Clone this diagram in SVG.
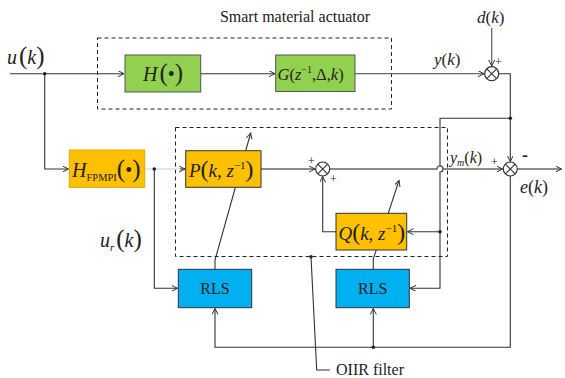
<svg xmlns="http://www.w3.org/2000/svg" width="565" height="378" viewBox="0 0 565 378" font-family="'Liberation Serif', 'Times New Roman', 'DejaVu Serif', serif">
<defs>
<marker id="ar" markerWidth="8" markerHeight="8" refX="6" refY="3" orient="auto" markerUnits="userSpaceOnUse">
<path d="M0,0 L6,3 L0,6" fill="none" stroke="#333" stroke-width="1"/>
</marker>
</defs>
<style>
text{font-family:'Liberation Serif','Times New Roman','DejaVu Serif',serif;fill:#222}
.i{font-style:italic}
.ln{fill:none;stroke:#333;stroke-width:1.1}
.gl{fill:none;stroke:#666;stroke-width:1.3}
.dash{fill:none;stroke:#222;stroke-width:1;stroke-dasharray:4,3}
.green{fill:#92D050;stroke:#555;stroke-width:1}
.orange{fill:#FFC000;stroke:#333;stroke-width:1}
.orange2{fill:#FFC000;stroke:#E0A800;stroke-width:1}
.blue{fill:#00B0F0;stroke:#333;stroke-width:1}
.sum{fill:#fff;stroke:#333;stroke-width:1.2}
.dot{fill:#222}
.pm{font-size:12px}
.par{font-size:1.25em}
</style>

<g id="actuator-box">
<rect class="dash" x="97.5" y="38" width="294" height="71"/>
<text x="295" y="22" font-size="16" text-anchor="middle">Smart material actuator</text>
</g>
<g id="oiir-box">
<rect class="dash" x="175.5" y="127.5" width="272" height="129"/>
</g>

<g id="connectors">
<path class="ln" d="M10,73.7 L124,73.7" marker-end="url(#ar)"/>
<path class="ln" d="M200.7,73.7 L275,73.7" marker-end="url(#ar)"/>
<path class="gl" d="M355,73.7 L484,73.7" marker-end="url(#ar)"/>
<path class="gl" d="M491.7,28 L491.7,66" marker-end="url(#ar)"/>
<path class="ln" d="M498.7,73.7 L510.3,73.7 L510.3,161.5" marker-end="url(#ar)"/>
<path class="ln" d="M510.3,118.3 L440,118.3 L440,166 A3,3 0 0 1 440,172 L440,288.3 L410,288.3" marker-end="url(#ar)"/>
<path class="ln" d="M440,231.7 L407.5,231.7" marker-end="url(#ar)"/>
<path class="ln" d="M44.7,73.7 L44.7,169 L68.5,169" marker-end="url(#ar)"/>
<path d="M145,169 L185,169" fill="none" stroke="#ddd" stroke-width="1.3"/>
<path class="ln" d="M180,169 L185,169" marker-end="url(#ar)"/>
<path class="ln" d="M154.3,169 L154.3,288.3 L177.5,288.3" marker-end="url(#ar)"/>
<path class="gl" d="M261,169 L315,169" marker-end="url(#ar)"/>
<path class="gl" d="M329.7,169 L437,169 A3,3 0 0 1 443,169 L502.5,169" marker-end="url(#ar)"/>
<path class="gl" d="M517.3,169 L561.5,169" marker-end="url(#ar)"/>
<path class="ln" d="M510.3,176 L510.3,347.3 L215,347.3 L215,308.5" marker-end="url(#ar)"/>
<path class="ln" d="M373.3,347.3 L373.3,308.5" marker-end="url(#ar)"/>
<path class="ln" d="M336,231.7 L322.7,231.7 L322.7,176.5" marker-end="url(#ar)"/>
<path class="ln" d="M215,269.3 L215,260 L250.7,133" marker-end="url(#ar)"/>
<path class="ln" d="M373.3,269.3 L373.3,259 L399,180.5" marker-end="url(#ar)"/>
<path class="ln" d="M311,256.7 L316.7,370 L330,370"/>
<circle class="dot" cx="44.7" cy="73.7" r="1.8"/>
<circle class="dot" cx="154.3" cy="169" r="1.8"/>
<circle class="dot" cx="510.3" cy="118.3" r="1.8"/>
<circle class="dot" cx="440" cy="231.7" r="1.8"/>
<circle class="dot" cx="373.3" cy="347.3" r="1.8"/>
<circle class="dot" cx="311" cy="256.7" r="1.8"/>
</g>

<g id="u-label"><text x="7" y="64" font-size="20"><tspan class="i">u</tspan><tspan class="par" dx="2">(</tspan><tspan class="i">k</tspan><tspan class="par">)</tspan></text></g>

<g id="H">
<rect class="green" x="125" y="55" width="75.7" height="37"/>
<text x="163" y="81" font-size="20" text-anchor="middle"><tspan class="i">H</tspan><tspan class="par" dx="2">(</tspan>•<tspan class="par">)</tspan></text>
</g>

<g id="G">
<rect class="green" x="275.7" y="55" width="79.3" height="36.5"/>
<text x="277.5" y="80" font-size="16.5"><tspan class="i">G</tspan>(<tspan class="i">z</tspan><tspan font-size="10" dy="-7">−1</tspan><tspan dy="7">,Δ,</tspan><tspan class="i">k</tspan>)</text>
</g>

<g id="y-label"><text x="434" y="65" font-size="17"><tspan class="i">y</tspan>(<tspan class="i">k</tspan>)</text></g>
<g id="d-label"><text x="477" y="23" font-size="17"><tspan class="i">d</tspan>(<tspan class="i">k</tspan>)</text></g>

<g id="sum1">
<circle class="sum" cx="491.7" cy="73.7" r="7"/>
<path class="ln" d="M486.8,68.8 L496.6,78.6 M496.6,68.8 L486.8,78.6"/>
<text class="pm" x="495" y="66">+</text>
</g>

<g id="HFPMPI">
<rect class="orange2" x="69.3" y="150" width="75.4" height="37.3"/>
<text x="72" y="177" font-size="20"><tspan class="i">H</tspan><tspan font-size="10.5" dy="4">FPMPI</tspan><tspan dy="-4" class="par">(</tspan>•<tspan class="par">)</tspan></text>
</g>

<g id="P">
<rect class="orange" x="185.7" y="150.7" width="75.3" height="36.6"/>
<text x="189" y="177" font-size="19"><tspan class="i">P</tspan><tspan class="par">(</tspan><tspan class="i">k</tspan>, <tspan class="i">z</tspan><tspan font-size="11" dy="-8">−1</tspan><tspan dy="8" class="par">)</tspan></text>
</g>

<g id="sum2">
<circle class="sum" cx="322.7" cy="169" r="7"/>
<path class="ln" d="M317.8,164.1 L327.6,173.9 M327.6,164.1 L317.8,173.9"/>
<text class="pm" x="308" y="165">+</text>
<text class="pm" x="330" y="183">+</text>
</g>

<g id="Q">
<rect class="orange" x="336" y="213.3" width="70.7" height="36.7"/>
<text x="338.5" y="240" font-size="19"><tspan class="i">Q</tspan><tspan class="par">(</tspan><tspan class="i">k</tspan>, <tspan class="i">z</tspan><tspan font-size="11" dy="-8">−1</tspan><tspan dy="8" class="par">)</tspan></text>
</g>

<g id="ym-label"><text x="450" y="163" font-size="16"><tspan class="i">y</tspan><tspan class="i" font-size="10" dy="3">m</tspan><tspan dy="-3">(</tspan><tspan class="i">k</tspan>)</text></g>

<g id="esum">
<circle class="sum" cx="510.3" cy="169" r="7"/>
<path class="ln" d="M505.4,164.1 L515.2,173.9 M515.2,164.1 L505.4,173.9"/>
<text class="pm" x="491" y="166">+</text>
<text x="522" y="161" font-size="18" font-weight="bold">-</text>
</g>

<g id="e-label"><text x="520" y="193" font-size="18"><tspan class="i">e</tspan>(<tspan class="i">k</tspan>)</text></g>

<g id="ur-label"><text x="100" y="247" font-size="20"><tspan class="i">u</tspan><tspan class="i" font-size="11" dy="4">r</tspan><tspan dy="-4" dx="2" class="par">(</tspan><tspan class="i">k</tspan><tspan class="par">)</tspan></text></g>

<g id="RLS1">
<rect class="blue" x="178.3" y="269.3" width="73.4" height="38.4"/>
<text x="215" y="294" font-size="16" text-anchor="middle">RLS</text>
</g>
<g id="RLS2">
<rect class="blue" x="336" y="269.3" width="73.3" height="38.4"/>
<text x="372.7" y="294" font-size="16" text-anchor="middle">RLS</text>
</g>

<g id="oiir-label"><text x="336" y="375" font-size="16">OIIR filter</text></g>
</svg>
